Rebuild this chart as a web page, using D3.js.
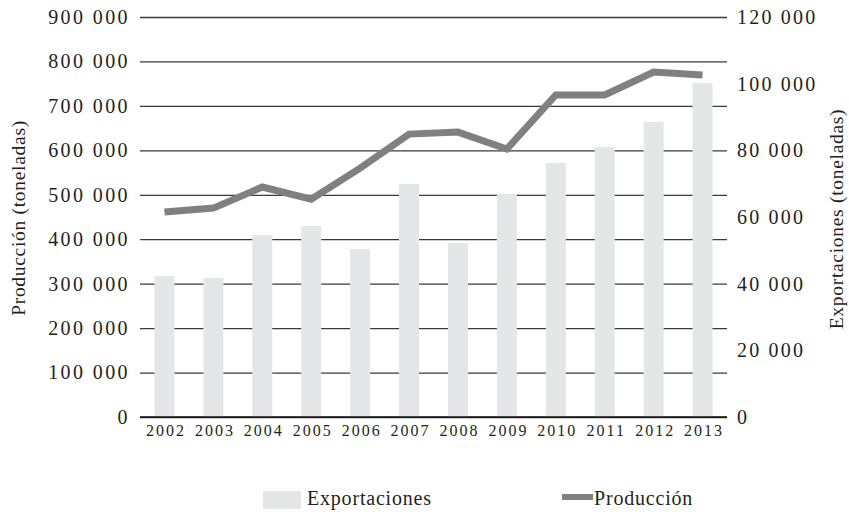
<!DOCTYPE html>
<html>
<head>
<meta charset="utf-8">
<script src="https://cdn.jsdelivr.net/npm/d3@7"></script>
<style>
  body { margin: 0; background: #fff; }
  text { font-family: 'Liberation Serif', serif; fill: #231f20; }
</style>
</head>
<body>
<div id="chart"></div>
<script>
let years = ['2002', '2003', '2004', '2005', '2006', '2007', '2008', '2009', '2010', '2011', '2012', '2013']
let exportaciones = [42300, 41700, 54600, 57300, 50400, 69900, 52200, 66900, 76200, 81000, 88500, 100200]
let produccion = [461000, 470000, 517500, 490000, 560000, 636500, 641000, 603000, 724500, 724500, 776000, 769500]
let leftTicks = [0, 100000, 200000, 300000, 400000, 500000, 600000, 700000, 800000, 900000]
let rightTicks = [0, 20000, 40000, 60000, 80000, 100000, 120000]

let margin = { top: 17, left: 140, right: 122, bottom: 95 }
let width = 849 - margin.left - margin.right
let height = 512 - margin.top - margin.bottom

let svg = d3
  .select('#chart')
  .append('svg')
  .attr('width', 849)
  .attr('height', 512)

let g = svg.append('g')
  .attr('transform', 'translate(' + margin.left + ',' + margin.top + ')')

let xPoint = d3.scalePoint().domain(years).range([0, width]).padding(0.5)
let yLeft = d3.scaleLinear().domain([0, 900000]).range([height, 0])
let yRight = d3.scaleLinear().domain([0, 120000]).range([height, 0])

let fmt = d => d3.format(',')(d).replace(/,/g, ' ')

// gridlines + left axis
let leftAxis = d3.axisLeft(yLeft).tickValues(leftTicks).tickSize(-width).tickFormat(fmt)
let la = g.append('g').call(leftAxis)
la.select('.domain').remove()
la.selectAll('line').attr('stroke', '#3a3a3a').attr('stroke-width', 1.3)
la.selectAll('text')
  .attr('x', -10)
  .style('font-size', '20px')
  .style('letter-spacing', '2.4px')
  .style('font-family', "'Liberation Serif', serif")
  .attr('fill', '#231f20')

// bars
g.selectAll('.bar')
  .data(exportaciones)
  .enter()
  .append('rect')
  .attr('class', 'bar')
  .attr('x', (d, i) => xPoint(years[i]) - 10)
  .attr('width', 20)
  .attr('y', d => yRight(d))
  .attr('height', d => height - yRight(d))
  .attr('fill', '#e5e6e8')

// baseline
g.append('line')
  .attr('x1', 0).attr('x2', width)
  .attr('y1', height).attr('y2', height)
  .attr('stroke', '#111').attr('stroke-width', 1.5)

// right axis
let ra = g.append('g')
  .attr('transform', 'translate(' + width + ',0)')
  .call(d3.axisRight(yRight).tickValues(rightTicks).tickSize(0).tickFormat(fmt))
ra.select('.domain').remove()
ra.selectAll('text')
  .attr('x', 10)
  .style('font-size', '20px')
  .style('letter-spacing', '2.2px')
  .style('font-family', "'Liberation Serif', serif")
  .attr('fill', '#231f20')

// x axis labels
let xa = g.append('g')
  .attr('transform', 'translate(0,' + height + ')')
  .call(d3.axisBottom(xPoint).tickSize(0))
xa.select('.domain').remove()
xa.selectAll('text')
  .attr('dy', '1.0em')
  .attr('dx', '1px')
  .style('font-size', '16px')
  .style('letter-spacing', '2px')
  .style('font-family', "'Liberation Serif', serif")
  .attr('fill', '#231f20')

// line
let line = d3.line()
  .x((d, i) => xPoint(years[i]))
  .y(d => yLeft(d))

g.append('path')
  .datum(produccion)
  .attr('d', line)
  .attr('fill', 'none')
  .attr('stroke', '#808082')
  .attr('stroke-width', 7)

// axis titles
svg.append('text')
  .attr('transform', 'translate(25,218) rotate(-90)')
  .attr('text-anchor', 'middle')
  .style('font-size', '19.5px')
  .style('letter-spacing', '0.7px')
  .text('Producción (toneladas)')

svg.append('text')
  .attr('transform', 'translate(843,219) rotate(-90)')
  .attr('text-anchor', 'middle')
  .style('font-size', '19.5px')
  .style('letter-spacing', '0.7px')
  .text('Exportaciones (toneladas)')

// legend
let legend = svg.append('g')
legend.append('rect')
  .attr('x', 263).attr('y', 491).attr('width', 38).attr('height', 18)
  .attr('fill', '#e5e6e8')
legend.append('text')
  .attr('x', 307).attr('y', 505)
  .style('font-size', '20px')
  .style('letter-spacing', '0.8px')
  .text('Exportaciones')
legend.append('line')
  .attr('x1', 562).attr('x2', 593).attr('y1', 497).attr('y2', 497)
  .attr('stroke', '#808082').attr('stroke-width', 6)
legend.append('text')
  .attr('x', 594).attr('y', 505)
  .style('font-size', '20px')
  .style('letter-spacing', '0.8px')
  .text('Producción')
</script>
</body>
</html>
